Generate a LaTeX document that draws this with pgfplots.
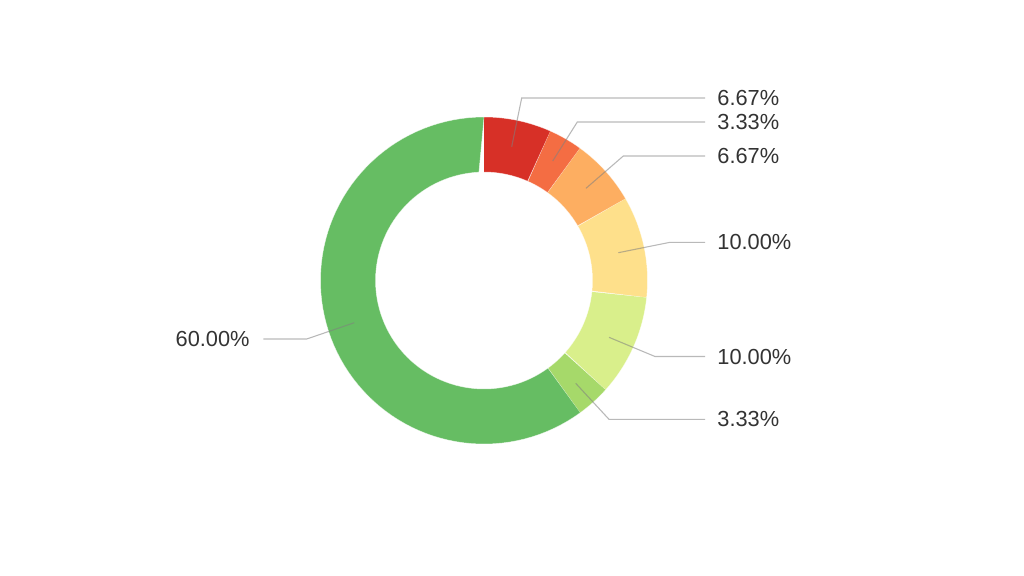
\documentclass[border=0pt]{standalone}
\usepackage{pgfplots}
\pgfplotsset{compat=1.18}
\usepackage{fontspec}
\setmainfont{Liberation Sans}
\definecolor{c1}{HTML}{D73027}
\definecolor{c2}{HTML}{F46D43}
\definecolor{c3}{HTML}{FDAE61}
\definecolor{c4}{HTML}{FEE08B}
\definecolor{c5}{HTML}{D9EF8B}
\definecolor{c6}{HTML}{A6D96A}
\definecolor{c7}{HTML}{66BD63}
\definecolor{lbl}{HTML}{333333}
% slice: #1 = cumulative count before the slice, #2 = count (of 30), #3 = colour
\newcommand{\slice}[3]{%
  \addplot[fill=#3, draw=white, draw opacity=0.6, line width=0.25pt, domain=0:2, samples=161, variable=\t]
  ({484 + ifthenelse(\t<=1,163.5,108.5)*cos(ifthenelse(\t<=1,
      90-12*#1-12*#2*\t, 90-12*#1-12*#2*(2-\t)))},
   {280.5 - ifthenelse(\t<=1,163.5,108.5)*sin(ifthenelse(\t<=1,
      90-12*#1-12*#2*\t, 90-12*#1-12*#2*(2-\t)))});
}
\begin{document}
\begin{tikzpicture}
\begin{axis}[
  width=512pt, height=287.5pt, scale only axis,
  xmin=0, xmax=1024, ymin=0, ymax=575, y dir=reverse,
  hide axis, clip=false,
]
\path (axis cs:0,0) rectangle (axis cs:1024,575);
\slice{0}{2}{c1}
\slice{2}{1}{c2}
\slice{3}{2}{c3}
\slice{5}{3}{c4}
\slice{8}{3}{c5}
\slice{11}{1}{c6}
\slice{12}{18}{c7}
\begin{scope}[every path/.style={draw=gray, draw opacity=0.55, line width=0.55pt}]
\draw (axis cs:511.7,146.7) -- (axis cs:521.7,98) -- (axis cs:705,98);
\draw (axis cs:552.7,161) -- (axis cs:577.3,122) -- (axis cs:705,122);
\draw (axis cs:586,188.3) -- (axis cs:623.3,156) -- (axis cs:705,156);
\draw (axis cs:618.3,252.7) -- (axis cs:670,242.3) -- (axis cs:705,242.3);
\draw (axis cs:609,337.3) -- (axis cs:655,356.5) -- (axis cs:705,356.5);
\draw (axis cs:575.7,383.3) -- (axis cs:609,419.3) -- (axis cs:705,419.3);
\draw (axis cs:354.3,322.7) -- (axis cs:306.7,339) -- (axis cs:263.3,339);
\end{scope}
\begin{scope}[every node/.style={text=lbl, font=\fontsize{10.9}{13}\selectfont, inner sep=0pt}]
\node[anchor=west] at (axis cs:717,98) {6.67\%};
\node[anchor=west] at (axis cs:717,122) {3.33\%};
\node[anchor=west] at (axis cs:717,156) {6.67\%};
\node[anchor=west] at (axis cs:717,242.3) {10.00\%};
\node[anchor=west] at (axis cs:717,356.5) {10.00\%};
\node[anchor=west] at (axis cs:717,419.3) {3.33\%};
\node[anchor=east] at (axis cs:250,339) {60.00\%};
\end{scope}
\end{axis}
\end{tikzpicture}
\end{document}
